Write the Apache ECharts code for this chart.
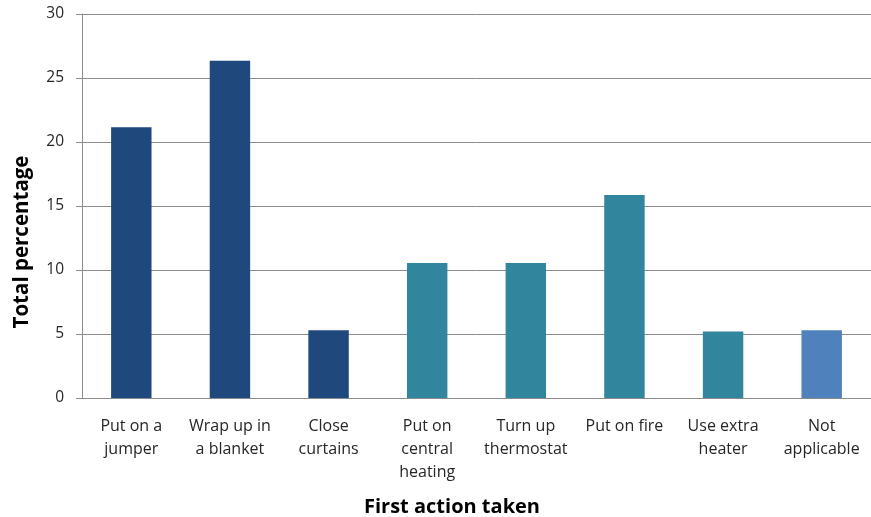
<!DOCTYPE html>
<html>
<head>
<meta charset="utf-8">
<script src="https://cdn.jsdelivr.net/npm/echarts@6/dist/echarts.min.js"></script>
<style>
  html, body { margin: 0; padding: 0; background: #fff; overflow: hidden; }
  #chart { width: 871px; height: 517px; }
</style>
</head>
<body>
<div id="chart"></div>
<script>
// First action taken when feeling cold (share of respondents, %)
const categories = [
  'Put on a\njumper',
  'Wrap up in\na blanket',
  'Close\ncurtains',
  'Put on\ncentral\nheating',
  'Turn up\nthermostat',
  'Put on fire',
  'Use extra\nheater',
  'Not\napplicable'
];
const values = [21.15, 26.35, 5.3, 10.55, 10.55, 15.85, 5.2, 5.3];
const barColors = ['#1f497d', '#1f497d', '#1f497d', '#31859c', '#31859c', '#31859c', '#31859c', '#4f81bd'];
const yTicks = [0, 5, 10, 15, 20, 25, 30];

const FONT = '"Open Sans", "Noto Sans", sans-serif';

const chart = echarts.init(document.getElementById('chart'), null, { renderer: 'canvas' });
chart.setOption({
  animation: false,
  grid: { left: 82, right: -6, top: 14, bottom: 119, containLabel: false },
  xAxis: {
    type: 'category',
    data: categories,
    axisLine: { lineStyle: { color: '#8c8c8c', width: 1 } },
    axisTick: { show: false },
    axisLabel: {
      color: '#262626',
      fontFamily: FONT,
      fontSize: 16,
      lineHeight: 23,
      margin: 17,
      interval: 0
    }
  },
  yAxis: {
    type: 'value',
    min: yTicks[0],
    max: yTicks[yTicks.length - 1],
    interval: 5,
    axisLine: { show: true, lineStyle: { color: '#8c8c8c', width: 1 } },
    axisTick: { show: true, length: 6, lineStyle: { color: '#8c8c8c' } },
    splitLine: { lineStyle: { color: '#8c8c8c', width: 1 } },
    axisLabel: {
      color: '#262626',
      fontFamily: FONT,
      fontSize: 15.5,
      margin: 18
    }
  },
  graphic: [
    {
      type: 'text',
      x: 452,
      y: 507,
      style: {
        text: 'First action taken',
        font: 'bold 20px ' + FONT,
        fill: '#000',
        align: 'center',
        verticalAlign: 'middle'
      }
    },
    {
      type: 'text',
      x: 22,
      y: 242,
      rotation: Math.PI / 2,
      style: {
        text: 'Total percentage',
        font: 'bold 20.5px ' + FONT,
        fill: '#000',
        align: 'center',
        verticalAlign: 'middle'
      }
    }
  ],
  series: [{
    type: 'bar',
    data: values.map((v, i) => ({ value: v, itemStyle: { color: barColors[i] } })),
    barWidth: '41%'
  }]
});
</script>
</body>
</html>
